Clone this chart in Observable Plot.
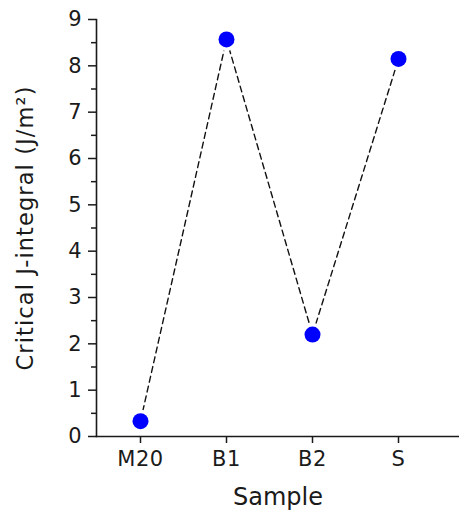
<!DOCTYPE html>
<html>
<head>
<meta charset="utf-8">
<script src="https://cdn.jsdelivr.net/npm/d3@7"></script>
<script src="https://cdn.jsdelivr.net/npm/@observablehq/plot@0.6"></script>
<style>
  html, body { margin: 0; padding: 0; background: #fff; }
  svg { display: block; }
  #chart svg g[aria-label="x-axis tick label"] text { font-size: 21px; letter-spacing: 0.5px; }
  #chart svg g[aria-label="y-axis tick label"] text { font-size: 21px; }
  #chart svg g[aria-label="y-axis label"] text { font-size: 22.5px; letter-spacing: 1.1px; }
  #chart svg g[aria-label="x-axis label"] text { font-size: 24px; }
</style>
</head>
<body>
<div id="chart"></div>
<script>
const samples = ["M20", "B1", "B2", "S"];
const jValues = [0.33, 8.57, 2.2, 8.15];
const majorTicks = [0, 1, 2, 3, 4, 5, 6, 7, 8, 9];
const minorTicks = [0.5, 1.5, 2.5, 3.5, 4.5, 5.5, 6.5, 7.5, 8.5];

const data = samples.map((s, i) => ({sample: s, value: jValues[i]}));

const chart = Plot.plot({
  width: 459,
  height: 511,
  marginLeft: 96,
  marginRight: 0,
  marginTop: 19,
  marginBottom: 75,
  style: {fontFamily: "'DejaVu Sans', sans-serif", fontSize: "20px", color: "#1a1a1a", background: "#fff"},
  x: {type: "point", domain: samples, range: [139, 398], padding: 0},
  y: {domain: [0, 9]},
  marks: [
    Plot.frame({anchor: "left", stroke: "#1a1a1a", strokeWidth: 1.6}),
    Plot.frame({anchor: "bottom", stroke: "#1a1a1a", strokeWidth: 1.6}),
    Plot.axisY({ticks: minorTicks, tickSize: 5, tickFormat: () => "", label: null, strokeWidth: 1.5}),
    Plot.axisY({ticks: majorTicks, tickSize: 8, tickPadding: 7, label: null, strokeWidth: 1.5}),
    Plot.axisY({ticks: [], label: "Critical J-integral (J/m²)", labelAnchor: "center", labelArrow: "none", labelOffset: 79}),
    Plot.axisX({tickSize: 7, tickPadding: 8, label: null, strokeWidth: 1.5}),
    Plot.axisX({ticks: [], label: "Sample", labelAnchor: "center", labelArrow: "none", labelOffset: 68}),
    Plot.line(data, {x: "sample", y: "value", stroke: "#111", strokeWidth: 1.4, strokeDasharray: "6,4"}),
    Plot.dot(data, {x: "sample", y: "value", r: 11.5, fill: "#fff", stroke: "none"}),
    Plot.dot(data, {x: "sample", y: "value", r: 8, fill: "#0000ff", stroke: "none"})
  ]
});
document.getElementById("chart").appendChild(chart);
</script>
</body>
</html>
